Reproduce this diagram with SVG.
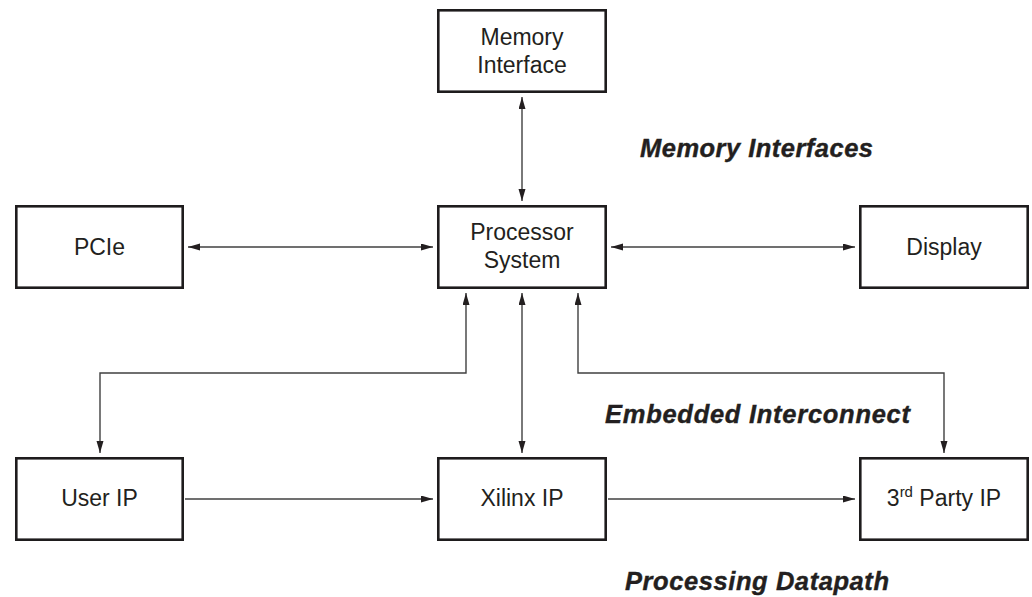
<svg xmlns="http://www.w3.org/2000/svg" width="1032" height="597" viewBox="0 0 1032 597">
<style>
.box{fill:#fff;stroke:#1e1c1d;stroke-width:2.6}
.lbl{font-family:"Liberation Sans",Arial,sans-serif;font-size:23px;fill:#231f20;text-anchor:middle}
.cap{font-family:"Liberation Sans",Arial,sans-serif;font-size:25.5px;font-weight:bold;font-style:italic;fill:#231f20;stroke:#231f20;stroke-width:0.4}
.con{fill:none;stroke:#404040;stroke-width:1.4}
</style>
<defs>
<marker id="ah" markerUnits="userSpaceOnUse" markerWidth="13" markerHeight="8" refX="12" refY="3.5" orient="auto-start-reverse">
<path d="M0,0 L12,3.5 L0,7 z" fill="#231f20"/>
</marker>
</defs>
<g id="connectors">
<line class="con" x1="522" y1="97" x2="522" y2="201" marker-start="url(#ah)" marker-end="url(#ah)"/>
<line class="con" x1="188" y1="247" x2="433" y2="247" marker-start="url(#ah)" marker-end="url(#ah)"/>
<line class="con" x1="611" y1="247" x2="855" y2="247" marker-start="url(#ah)" marker-end="url(#ah)"/>
<polyline class="con" points="466,293 466,373 100,373 100,453" marker-start="url(#ah)" marker-end="url(#ah)"/>
<line class="con" x1="522" y1="293" x2="522" y2="453" marker-start="url(#ah)" marker-end="url(#ah)"/>
<polyline class="con" points="578,293 578,373 944,373 944,453" marker-start="url(#ah)" marker-end="url(#ah)"/>
<line class="con" x1="185" y1="499" x2="433" y2="499" marker-end="url(#ah)"/>
<line class="con" x1="608" y1="499" x2="855" y2="499" marker-end="url(#ah)"/>
</g>
<g id="memory-interface">
<rect class="box" x="438.3" y="10.3" width="167.4" height="81.4"/>
<text class="lbl" x="522" y="45">Memory</text>
<text class="lbl" x="522" y="73">Interface</text>
</g>
<g id="pcie">
<rect class="box" x="16.3" y="206.3" width="166.4" height="81.4"/>
<text class="lbl" x="99.5" y="255">PCIe</text>
</g>
<g id="processor-system">
<rect class="box" x="438.3" y="206.3" width="167.4" height="81.4"/>
<text class="lbl" x="522" y="240">Processor</text>
<text class="lbl" x="522" y="268">System</text>
</g>
<g id="display">
<rect class="box" x="860.3" y="206.3" width="167.4" height="81.4"/>
<text class="lbl" x="944" y="255">Display</text>
</g>
<g id="user-ip">
<rect class="box" x="16.3" y="458.3" width="166.4" height="81.4"/>
<text class="lbl" x="99.5" y="506">User IP</text>
</g>
<g id="xilinx-ip">
<rect class="box" x="438.3" y="458.3" width="167.4" height="81.4"/>
<text class="lbl" x="522" y="506">Xilinx IP</text>
</g>
<g id="third-party-ip">
<rect class="box" x="860.3" y="458.3" width="167.4" height="81.4"/>
<text class="lbl" x="944" y="506">3<tspan font-size="15" dy="-9">rd</tspan><tspan dy="9"> Party IP</tspan></text>
</g>
<g id="captions">
<text class="cap" x="640" y="157" textLength="233" lengthAdjust="spacing">Memory Interfaces</text>
<text class="cap" x="605" y="423" textLength="305" lengthAdjust="spacing">Embedded Interconnect</text>
<text class="cap" x="625" y="590" textLength="264" lengthAdjust="spacing">Processing Datapath</text>
</g>
</svg>
